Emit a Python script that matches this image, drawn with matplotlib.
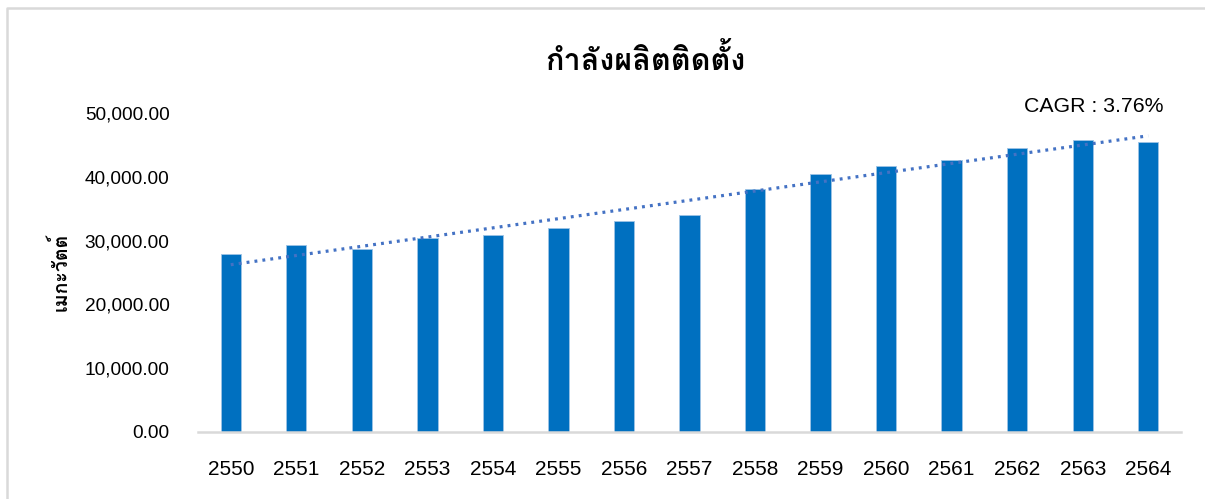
import numpy as np
import matplotlib
matplotlib.use("Agg")
import matplotlib.pyplot as plt
from matplotlib.ticker import FuncFormatter
from matplotlib.lines import Line2D

years = ["2550", "2551", "2552", "2553", "2554", "2555", "2556", "2557",
         "2558", "2559", "2560", "2561", "2562", "2563", "2564"]
capacity = [27940, 29240, 28660, 30400, 30870, 31970, 33120, 34070,
            38100, 40460, 41710, 42660, 44540, 45750, 45390]
title = "กำลังผลิตติดตั้ง"
ylabel = "เมกะวัตต์"
cagr_label = "CAGR : 3.76%"

thai_font = ["Loma", "Noto Sans Thai Looped", "DejaVu Sans"]
plt.rcParams["font.family"] = ["Liberation Sans", "DejaVu Sans"]

fig = plt.figure(figsize=(12.05, 4.99), dpi=100)
# light grey chart-area border: only the top and left edges show
bx, by = 7 / 1205, 1 - 8 / 499
fig.lines.append(Line2D([bx, bx, 1.0], [0.0, by, by], transform=fig.transFigure,
                        color="#D9D9D9", linewidth=1.8))

ax = fig.add_axes([198 / 1205, 67 / 499, 983 / 1205, 319 / 499])
x = np.arange(len(years))
ax.bar(x, capacity, width=0.31, color="#0070C0", edgecolor="#9DC3E6", linewidth=0.6, zorder=2)

# linear trendline
k, b = np.polyfit(x, capacity, 1)
ax.plot(x[[0, -1]], k * x[[0, -1]] + b, color="#4472C4", linewidth=2.3,
        linestyle=(0, (0.9, 1.6)), zorder=3)

ax.set_xlim(-0.5, len(years) - 0.5)
ax.set_ylim(0, 50000)
ax.set_yticks(np.arange(0, 50001, 10000))
ax.yaxis.set_major_formatter(FuncFormatter(lambda v, p: f"{v:,.2f}"))
ax.set_xticks(x)
ax.set_xticklabels(years)
ax.tick_params(axis="y", length=0, labelsize=13.7, pad=20.5, colors="#000000")
ax.tick_params(axis="x", length=0, labelsize=15, pad=20, colors="#000000")
for s in ["top", "right", "left"]:
    ax.spines[s].set_visible(False)
ax.spines["bottom"].set_color("#D9D9D9")
ax.spines["bottom"].set_linewidth(1.8)

fig.text(645 / 1205, 1 - 60 / 499, title, family=thai_font, fontweight="bold",
         fontsize=22, ha="center", va="center")
fig.text(60 / 1205, 1 - 272 / 499, ylabel, family=thai_font, fontweight="bold",
         fontsize=14, rotation=90, ha="center", va="center")
fig.text(1163 / 1205, 1 - 106 / 499, cagr_label, fontsize=15.3, ha="right", va="center")

fig.savefig("out.png", dpi=100)
